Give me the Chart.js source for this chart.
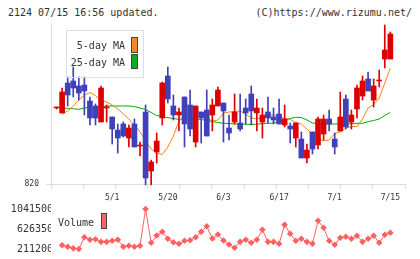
<!DOCTYPE html>
<html>
<head>
<meta charset="utf-8">
<script src="https://cdn.jsdelivr.net/npm/chart.js@4"></script>
<style>
  body { margin: 0; width: 420px; height: 259px; background: #fff; position: relative; overflow: hidden;
         font-family: 'DejaVu Sans Mono', monospace; color: #333; }
  .t { position: absolute; font-size: 10px; line-height: 12px; white-space: nowrap; }
  .box { position: absolute; border: 1px solid #444; }
  canvas { position: absolute; left: 0; }
</style>
</head>
<body>
<div class="t" style="left:8px;top:7px">2124 07/15 16:56 updated.</div>
<div class="t" style="right:8px;top:7px">(C)https://www.rizumu.net/</div>

<canvas id="price" width="420" height="203" style="top:0"></canvas>
<canvas id="vol" width="420" height="56" style="top:203px"></canvas>

<div style="position:absolute;left:66px;top:30px;width:76px;height:46px;border:1px solid #ddd"></div>
<div class="t" style="left:0;width:125px;text-align:right;top:40px">5-day MA</div>
<div class="box" style="left:131px;top:37px;width:5px;height:14px;background:#f08c1e"></div>
<div class="t" style="left:0;width:125px;text-align:right;top:57px">25-day MA</div>
<div class="box" style="left:131px;top:54px;width:5px;height:13px;background:#11aa22"></div>

<div class="t" style="left:58px;top:217px">Volume</div>
<div class="box" style="left:101px;top:213px;width:4px;height:14px;background:#ff6464"></div>

<script>
// day index 0..60, candle data
var open  = [896,891,921,923,918,919,903,898,882,896,887,874,880,866,880,858,892,833,852,886,
             928,898,889,907,899,862,892,894,889,898,901,876,882,881,896,910,891,882,892,887,
             890,879,878,866,865,846,872,859,870,885,865,873,905,882,895,908,925,904,923,945,945];
var high  = [897,916,927,937,927,927,907,900,918,899,887,880,882,879,885,862,899,844,871,922,
             937,909,896,907,914,898,892,914,905,917,901,889,910,910,905,918,905,896,907,896,
             905,899,881,881,872,860,872,887,889,894,871,912,909,894,919,928,932,925,934,979,972];
var low   = [895,891,898,907,904,889,879,879,882,882,860,851,867,857,857,848,819,819,841,879,
             901,884,873,857,868,857,861,868,873,898,862,864,880,873,880,879,873,866,881,880,
             880,877,861,857,846,841,850,855,864,873,850,873,875,875,886,904,913,897,917,936,945];
var close = [896,912,909,916,911,913,886,886,916,896,875,866,868,876,857,858,826,842,863,921,
             905,889,892,880,875,898,886,868,899,914,893,871,892,875,891,893,896,889,886,884,
             880,885,875,881,846,854,855,885,885,880,857,887,877,889,916,923,913,918,923,954,970];

var ma5  = [null,890,893,898,904,909,911.5,908.5,903.5,902,899,895,890,885,879,872,863,855,851,849.5,
            857,868,883,887.5,891.5,893.5,891,886,883,884,891,892,892.5,893,890,886,885,886.7,888.5,889,
            887.5,885.5,884.5,881.5,880,875,870,865.5,863,864,870.5,872,876,877.3,877.5,885,896,899.5,906,921,935.7];
var ma25 = [null,895.7,895.7,895.2,894.7,896,896.7,897,897.5,898,898,898,898,898,897.5,896,894.5,891.5,888.5,887.5,
            886.3,885.5,884.7,885,885.5,885,884.5,883.5,882.5,881.5,880.7,880.5,880,880,879.7,879.7,879.7,880.5,880.7,881,
            882.5,884,885.5,886.7,886.5,884,881,880.5,880,880,880,880,880,880.5,880.7,880.7,882.3,883.5,885,888.5,891.7];

var volume = [null,290000,257000,225000,211200,456000,402000,414000,360000,360000,381000,402000,257000,278000,257000,278000,
              1041500,340000,491000,568000,423000,352000,319000,381000,394000,456000,568000,684000,429000,512000,387000,
              304000,236000,360000,402000,340000,402000,610000,360000,360000,319000,714000,527000,381000,423000,360000,
              319000,797000,651000,381000,298000,444000,464000,423000,485000,360000,423000,485000,340000,506000,548000];

var labelDays = [10, 20, 30, 40, 50, 60];
var labelText = ['5/1', '5/20', '6/3', '6/17', '7/1', '7/15'];
var priceTicks = [820];
var volTicks = [211200, 626350, 1041500];

var RED = '#dd0000', BLUE = '#4040bb';
var xMin = -1, xMax = 62.635, gridStep = (xMax - xMin) / 11;

Chart.defaults.font.family = "'DejaVu Sans Mono', monospace";
Chart.defaults.color = '#333';
Chart.defaults.animation = false;

var bodies = [], wicks = [], colors = [], m5 = [], m25 = [], vol = [];
for (var i = 0; i < open.length; i++) {
	bodies.push({x: i, y: [open[i], close[i]]});
	wicks.push({x: i, y: [low[i], high[i]]});
	colors.push(close[i] >= open[i] ? RED : BLUE);
	m5.push({x: i, y: ma5[i]});
	m25.push({x: i, y: ma25[i]});
	vol.push({x: i, y: volume[i]});
}

function isGrid(v) { return labelDays.indexOf(v) < 0; }

new Chart(document.getElementById('price'), {
	type: 'bar',
	data: {
		datasets: [
			{ type: 'line', data: m5, borderColor: '#ee8811', borderWidth: 1, pointRadius: 0, order: 3 },
			{ type: 'line', data: m25, borderColor: '#00aa00', borderWidth: 1, pointRadius: 0, order: 4 },
			{ data: wicks, backgroundColor: colors, barThickness: 1, grouped: false, clip: false, order: 2 },
			{ data: bodies, backgroundColor: colors, barThickness: 5, minBarLength: 1, grouped: false, order: 1 }
		]
	},
	options: {
		responsive: false,
		layout: { padding: { top: 24, right: 15, left: 0, bottom: 0 } },
		plugins: { legend: { display: false }, tooltip: { enabled: false } },
		scales: {
			x: {
				type: 'linear', min: xMin, max: xMax, offset: false,
				afterBuildTicks: function(s) {
					var t = [];
					for (var k = 0; k <= 11; k++) t.push({value: xMin + k * gridStep});
					labelDays.forEach(function(d) { t.push({value: d}); });
					t.sort(function(a, b) { return a.value - b.value; });
					s.ticks = t;
				},
				afterFit: function(s) { s.height = 19; },
				ticks: {
					autoSkip: false, maxRotation: 0, padding: 4, font: { size: 8 },
					callback: function(v) { var k = labelDays.indexOf(v); return k >= 0 ? labelText[k] : ''; }
				},
				grid: {
					offset: false, drawOnChartArea: false, tickLength: 5,
					color: function(c) { return c.tick && isGrid(c.tick.value) ? '#dddddd' : 'rgba(0,0,0,0)'; }
				},
				border: { color: '#dddddd' }
			},
			y: {
				min: 820, max: 980,
				afterBuildTicks: function(s) { s.ticks = priceTicks.map(function(v) { return {value: v}; }); },
				afterFit: function(s) { s.width = 51; },
				ticks: { padding: 7, font: { size: 8 } },
				grid: { drawOnChartArea: false, tickLength: 5, color: '#dddddd' },
				border: { color: '#dddddd' }
			}
		}
	}
});

new Chart(document.getElementById('vol'), {
	type: 'line',
	data: {
		datasets: [{
			data: vol, borderColor: '#ff6060', borderWidth: 1,
			pointStyle: 'rectRot', pointRadius: 3.3, pointBorderWidth: 0,
			pointBackgroundColor: '#ff6060', clip: false
		}]
	},
	options: {
		responsive: false,
		layout: { padding: { top: 6, right: 15, left: 0, bottom: 10 } },
		plugins: { legend: { display: false }, tooltip: { enabled: false } },
		scales: {
			x: { type: 'linear', min: xMin, max: xMax, display: false },
			y: {
				min: volTicks[0], max: volTicks[2],
				afterBuildTicks: function(s) { s.ticks = volTicks.map(function(v) { return {value: v}; }); },
				afterFit: function(s) { s.width = 51; },
				ticks: { padding: -2, font: { size: 10 }, callback: function(v) { return String(v); } },
				grid: { display: false, drawTicks: false, tickLength: 0 },
				border: { display: false }
			}
		}
	}
});
</script>
</body>
</html>
